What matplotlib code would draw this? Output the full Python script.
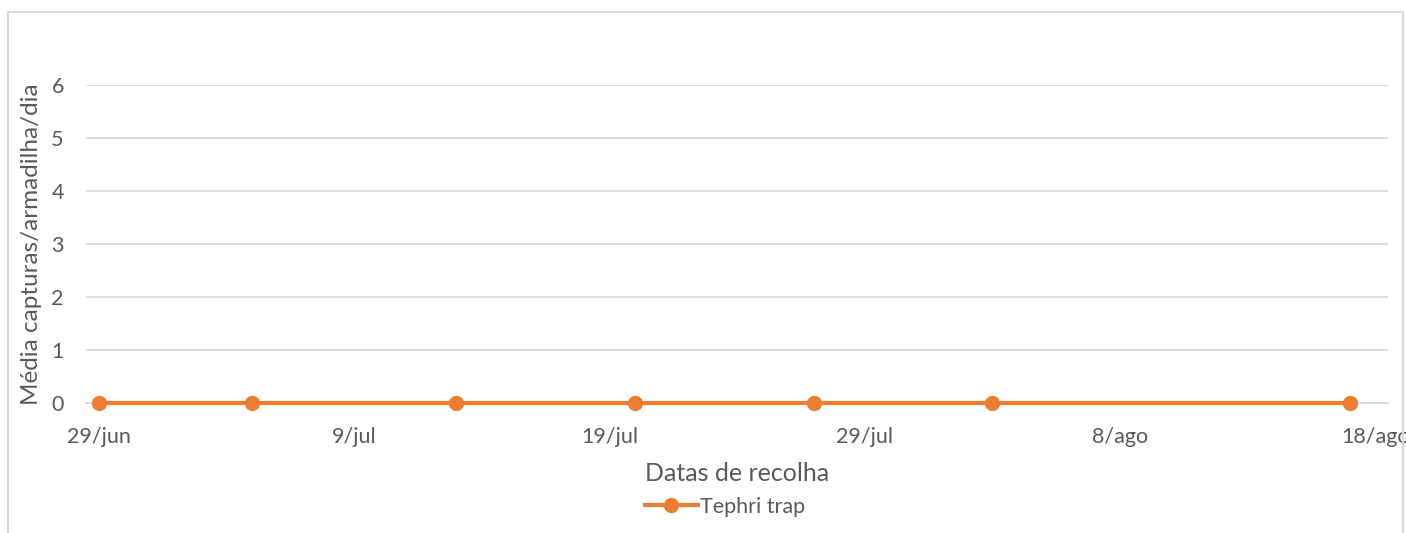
import numpy as np
import pandas as pd
import matplotlib
matplotlib.use("Agg")
import matplotlib.pyplot as plt
import matplotlib.dates as mdates
from matplotlib.patches import Rectangle

# dados
datas = ["2021-06-29", "2021-07-05", "2021-07-13", "2021-07-20",
         "2021-07-27", "2021-08-03", "2021-08-17"]
capturas = [0, 0, 0, 0, 0, 0, 0]
serie = "Tephri trap"
tick_datas = ["2021-06-29", "2021-07-09", "2021-07-19", "2021-07-29",
              "2021-08-08", "2021-08-18"]
tick_labels = ["29/jun", "9/jul", "19/jul", "29/jul", "8/ago", "18/ago"]
y_ticks = [0, 1, 2, 3, 4, 5, 6]

laranja = "#ED7D31"
cinza_txt = "#595959"
cinza_grid = "#D9D9D9"

plt.rcParams['font.family'] = ['Lato', 'DejaVu Sans']

x = pd.to_datetime(datas)
xt = pd.to_datetime(tick_datas)

fig = plt.figure(figsize=(14.06, 5.33), dpi=100)
ax = fig.add_axes([86/1406, 1 - 403/533, (1388-86)/1406, (403-85)/533])

ax.plot(x, capturas, color=laranja, lw=3, marker='o', ms=10,
        label=serie, clip_on=False, zorder=3)

x0 = mdates.date2num(xt[0]) - 0.5
x1 = mdates.date2num(xt[-1]) + 0.5
ax.set_xlim(x0, x1)
ax.set_ylim(0, 6)
ax.set_xticks(xt)
ax.set_xticklabels(tick_labels)
ax.set_yticks(y_ticks)
ax.tick_params(axis='both', length=0, labelsize=15.5, colors=cinza_txt)
ax.tick_params(axis='x', pad=17)
ax.tick_params(axis='y', pad=16)

ax.grid(axis='y', color=cinza_grid, lw=1.3)
ax.set_axisbelow(True)
for s in ['top', 'right', 'left']:
    ax.spines[s].set_visible(False)
ax.spines['bottom'].set_color(cinza_grid)
ax.spines['bottom'].set_linewidth(1.3)

ax.set_xlabel("Datas de recolha", fontsize=18, color=cinza_txt, labelpad=11)
ax.set_ylabel("Média capturas/armadilha/dia", fontsize=17.5, color=cinza_txt, labelpad=7)

fig.legend(loc='center', bbox_to_anchor=(0.5157, 1 - 507/533), frameon=False,
           fontsize=15.5, labelcolor=cinza_txt, handlelength=2.5, handletextpad=0.1)

# moldura do gráfico
fig.patches.append(Rectangle((8/1406, -0.1), (1403-8)/1406, 1.1 - 12/533,
                             transform=fig.transFigure, fill=False,
                             edgecolor=cinza_grid, lw=1.5))

fig.savefig("out.png", dpi=100)
